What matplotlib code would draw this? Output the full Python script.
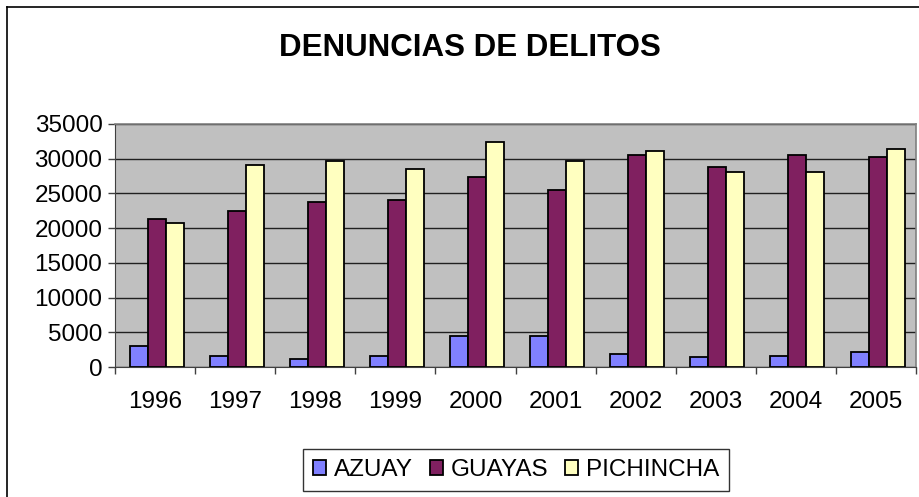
import matplotlib
matplotlib.use("Agg")
import matplotlib.pyplot as plt
import numpy as np
from matplotlib.lines import Line2D

years = ["1996", "1997", "1998", "1999", "2000", "2001", "2002", "2003", "2004", "2005"]
azuay = [3050, 1630, 1100, 1630, 4450, 4450, 1900, 1400, 1630, 2200]
guayas = [21300, 22400, 23800, 24100, 27400, 25450, 30550, 28800, 30550, 30200]
pichincha = [20700, 29150, 29700, 28550, 32450, 29700, 31050, 28050, 28050, 31350]
series_names = ["AZUAY", "GUAYAS", "PICHINCHA"]
colors = ["#8080FF", "#802060", "#FFFFC0"]

plt.rcParams['font.family'] = ['Liberation Sans', 'DejaVu Sans']

fig = plt.figure(figsize=(9.2, 4.97), dpi=100)
W, H = 920, 497
ax = fig.add_axes([115 / W, 1 - 367 / H, (916 - 115) / W, (367 - 124) / H])
ax.set_facecolor("#C0C0C0")

x = np.arange(len(years))
bw = 0.225
for i, (vals, name, c) in enumerate(zip([azuay, guayas, pichincha], series_names, colors)):
    ax.bar(x + (i - 1) * bw + 0.02, vals, width=bw, color=c, edgecolor="black",
           linewidth=1.3, label=name, zorder=3)

ax.set_xlim(-0.5, len(years) - 0.5)
ax.set_ylim(0, 35000)
ax.set_yticks(np.arange(0, 35001, 5000))
ax.set_yticklabels([str(v) for v in range(0, 35001, 5000)], fontsize=17.5)
ax.yaxis.grid(True, color="#202020", linewidth=1.0, zorder=1)
ax.set_axisbelow(True)

ax.set_xticks(x)
ax.set_xticklabels(years, fontsize=17.5)
ax.tick_params(axis="x", length=0, pad=17)
ax.set_xticks(np.arange(-0.5, len(years), 1.0), minor=True)
ax.tick_params(axis="x", which="minor", length=5, width=1, color="#404040", direction="out")
ax.tick_params(axis="y", length=5, width=1, color="#404040", direction="out", pad=4)

for s in ["top", "right"]:
    ax.spines[s].set_color("#808080")
    ax.spines[s].set_linewidth(1.2)
ax.spines["left"].set_color("#404040")
ax.spines["bottom"].set_color("#404040")

fig.text(470 / W, 1 - 48 / H, "DENUNCIAS DE DELITOS", ha="center",
         va="center", fontsize=22.5, fontweight="bold")

leg = fig.legend(loc="center", bbox_to_anchor=(516 / W, 1 - 470 / H), ncol=3, fontsize=17.5,
                 frameon=True, fancybox=False, edgecolor="black", handlelength=0.55,
                 handleheight=0.55, handletextpad=0.3, columnspacing=0.7, borderpad=0.4)
leg.get_frame().set_linewidth(1.0)

# chart-area border (top and left edges visible in the reference)
fig.add_artist(Line2D([7 / W, 7 / W], [0, 1 - 7 / H], transform=fig.transFigure,
                      color="black", linewidth=1.2))
fig.add_artist(Line2D([7 / W, 1], [1 - 7 / H, 1 - 7 / H], transform=fig.transFigure,
                      color="black", linewidth=1.2))

fig.savefig("out.png", dpi=100)
